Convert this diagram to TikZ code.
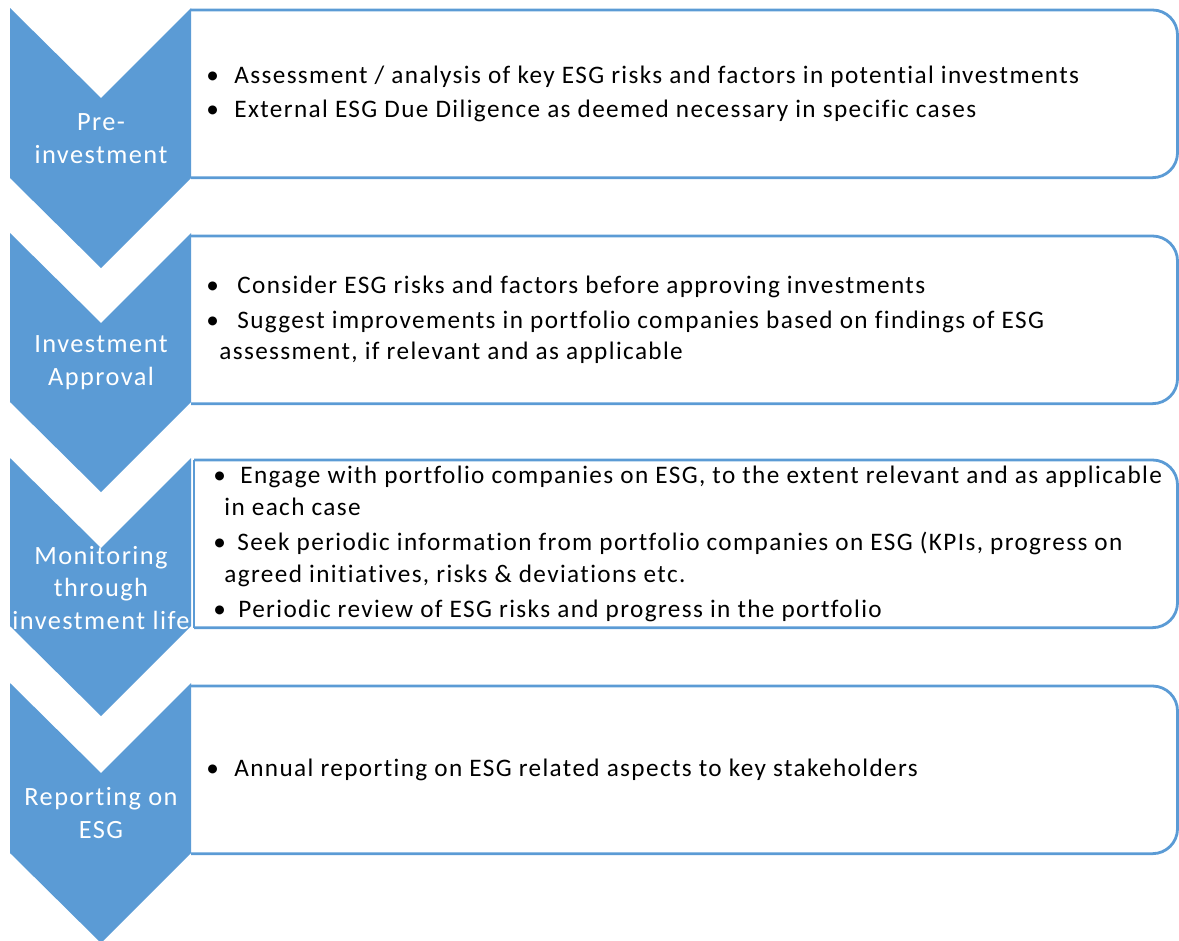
\documentclass[tikz,border=0pt]{standalone}
\usepackage{fontspec}
\setmainfont[LetterSpace=5.5, Ligatures=NoCommon]{Carlito}
\usetikzlibrary{positioning}
\definecolor{stageblue}{HTML}{5B9BD5}

\begin{document}
\begin{tikzpicture}[x=0.02cm, y=-0.02cm,
    stagebox/.style={rectangle, anchor=north west, minimum width=19.72cm, minimum height=3.34cm, inner sep=0pt},
    boxline/.style={draw=stageblue, line width=1.6pt, rounded corners=0.5cm},
    chevron/.style={fill=stageblue, draw=none},
    stagelabel/.style={text=white, align=center, font=\fontsize{15}{18.7}\selectfont},
    stagetext/.style={align=left, inner sep=0pt, font=\fontsize{14.35}{18.1}\selectfont}]
    \useasboundingbox (0,0) rectangle (1179,940);

    % boxes
    \node (box1) [stagebox] at (191,10) {};
    \node (box2) [stagebox] at (191,236) {};
    \node (box3) [stagebox, minimum width=19.66cm] at (194,460) {};
    \node (box4) [stagebox] at (191,686) {};

    \draw [boxline] (box1.north west) -- (box1.north east) -- (box1.south east) -- (box1.south west);
    \draw [boxline] (box2.north west) -- (box2.north east) -- (box2.south east) -- (box2.south west);
    \draw [boxline] (box3.north west) -- (box3.north east) -- (box3.south east) -- (box3.south west);
    \draw [boxline, sharp corners] (box3.north west) -- (box3.south west);
    \draw [boxline] (box4.north west) -- (box4.north east) -- (box4.south east) -- (box4.south west);

    % chevrons
    \fill [chevron] (10,8) -- (101,98) -- (191,8) -- (191,178) -- (101,268) -- (10,178) -- cycle;
    \fill [chevron] (10,233) -- (101,323) -- (191,233) -- (191,402) -- (101,492) -- (10,402) -- cycle;
    \fill [chevron] (10,458) -- (101,548) -- (191,458) -- (191,626) -- (101,716) -- (10,626) -- cycle;
    \fill [chevron] (10,683) -- (101,773) -- (191,683) -- (191,853) -- (101,943) -- (10,853) -- cycle;

    \node (lab1) [stagelabel] at (101,139) {Pre-\\investment};
    \node (lab2) [stagelabel] at (101,363) {Investment\\Approval};
    \node (lab3) [stagelabel] at (101,588) {Monitoring\\through\\investment life};
    \node (lab4) [stagelabel] at (101,813) {Reporting on\\ESG};

    % bullet texts
    \node (txt1) [stagetext, right=0.3cm of box1.west] {%
        \makebox[0.56cm][l]{\textbullet}Assessment / analysis of key ESG risks and factors in potential investments\\[1.7pt]
        \makebox[0.56cm][l]{\textbullet}External ESG Due Diligence as deemed necessary in specific cases};
    \node (txt2) [stagetext, right=0.3cm of box2.west] {%
        \makebox[0.62cm][l]{\textbullet}Consider ESG risks and factors before approving investments\\[1.7pt]
        \makebox[0.62cm][l]{\textbullet}Suggest improvements in portfolio companies based on findings of ESG\\
        \hspace*{0.26cm}assessment, if relevant and as applicable};
    \node (txt3) [stagetext, right=0.38cm of box3.west] {%
        \makebox[0.54cm][l]{\textbullet}Engage with portfolio companies on ESG, to the extent relevant and as applicable\\
        \hspace*{0.22cm}in each case\\[1.7pt]
        \makebox[0.48cm][l]{\textbullet}Seek periodic information from portfolio companies on ESG (KPIs, progress on\\
        \hspace*{0.22cm}agreed initiatives, risks \& deviations etc.\\[1.7pt]
        \makebox[0.5cm][l]{\textbullet}Periodic review of ESG risks and progress in the portfolio};
    \node (txt4) [stagetext, right=0.3cm of box4.west] {%
        \makebox[0.56cm][l]{\textbullet}Annual reporting on ESG related aspects to key stakeholders};
\end{tikzpicture}
\end{document}
